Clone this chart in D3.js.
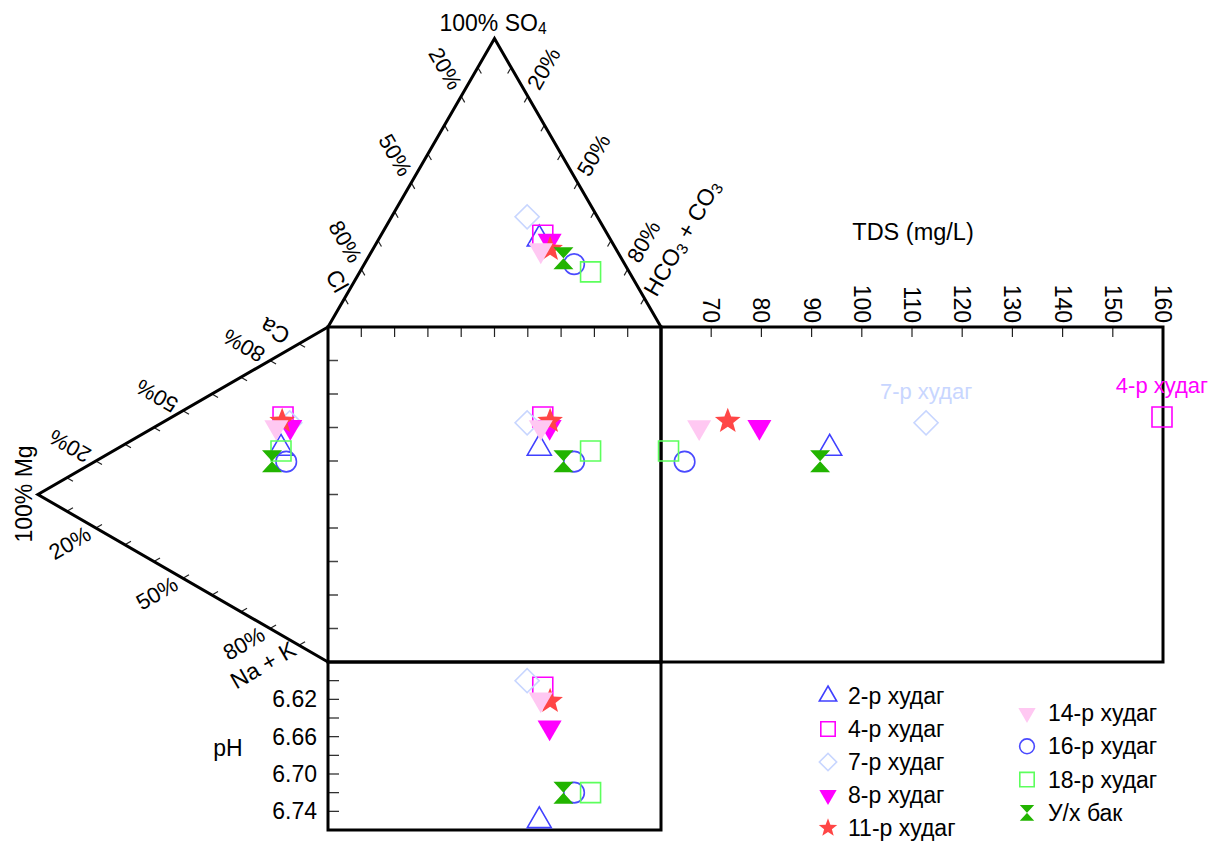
<!DOCTYPE html>
<html><head><meta charset="utf-8">
<script src="https://cdn.jsdelivr.net/npm/d3@7"></script>
<style>
body{margin:0;background:#fff}
svg{display:block}
text{font-family:"Liberation Sans",Arial,sans-serif;fill:#000}
</style>
</head><body>
<svg id="c" width="1212" height="843"></svg>
<script>
// ---------- data ----------
const samples = ["2-р худаг","4-р худаг","7-р худаг","8-р худаг","11-р худаг","14-р худаг","16-р худаг","18-р худаг","У/х бак"];
const so4  = [30.5,31.8,38.2,29.9,27.0,26.6,21.8,19.1,23.8];
const hco3 = [48.2,48.6,40.7,51.6,53.2,50.6,63.0,69.3,58.8];
const cl   = [21.3,19.6,21.1,18.5,19.8,22.8,15.2,11.6,17.4];
const ca   = [55.7,65.4,64.8,63.7,64.0,61.2,52.6,54.9,50.3];
const mg   = [16.2,15.5,13.2,13.0,15.8,17.8,14.4,16.2,19.3];
const nak  = [28.1,19.1,22.0,23.3,20.2,21.0,33.0,28.9,30.4];
const tds  = [93.6,159.8,112.8,79.6,73.3,67.6,64.7,61.5,91.7];
const ph   = [6.75,6.607,6.60,6.65,6.622,6.62,6.72,6.72,6.72];
const tdsTicks = [70,80,90,100,110,120,130,140,150,160];
const phTicks = [6.62,6.66,6.70,6.74];
const phMinor = [6.60,6.62,6.64,6.66,6.68,6.70,6.72,6.74];
const pctTicks = [10,20,30,40,50,60,70,80,90];
const pctLabels = [20,50,80];
const tdsLabelled = ["4-р худаг","7-р худаг"];

// ---------- styles ----------
const colors = ["#4040ff","#ff00ff","#c8d6ff","#ff00ff","#ff4646","#ffc8f2","#4a4aff","#5cff5c","#22b400"];
const shapes = ["triangle","square","diamond","triDown","star","triDown","circle","square","hourglass"];
const filled = [false,false,false,true,true,true,false,false,true];

const svg = d3.select("#c");
const X0 = 328, Y0 = 327, W = 333, H = 335;
const HT = W*Math.sqrt(3)/2;
const HL = H*Math.sqrt(3)/2;
const XR = X0 + W, YB = Y0 + H;

const ax = d3.scaleLinear().domain([0,100]).range([X0, XR]);
const ay = d3.scaleLinear().domain([0,100]).range([Y0, Y0-HT]);
const cy = d3.scaleLinear().domain([0,100]).range([Y0, YB]);
const cx = d3.scaleLinear().domain([0,100]).range([X0, X0-HL]);
const tx = d3.scaleLinear().domain([60,160]).range([XR, 1163]);
const py = d3.scaleLinear().domain([6.58,6.76]).range([YB, 830]);

const A = {x: X0+W/2, y: Y0-HT}, L = {x: X0, y: Y0}, R = {x: XR, y: Y0};
const M = {x: X0-HL, y: Y0+H/2}, C = {x: X0, y: Y0}, N = {x: X0, y: YB};

const pts = samples.map((s,i)=>({
  i,
  axp: ax(hco3[i] + so4[i]/2),
  ayp: ay(so4[i]),
  cxp: cx(mg[i]),
  cyp: cy(nak[i] + mg[i]/2),
  txp: tx(tds[i]),
  pyp: py(ph[i])
}));

const FS = 23;
const g = svg.append("g");
const lerp = (p,q,t)=>({x:p.x+(q.x-p.x)*t, y:p.y+(q.y-p.y)*t});

function edgeTicks(p0, p1, dir, off, rot) {
  pctTicks.forEach(v=>{
    const p = lerp(p0,p1,v/100);
    g.append("line").attr("x1",p.x).attr("y1",p.y)
      .attr("x2",p.x+dir[0]*7).attr("y2",p.y+dir[1]*7)
      .attr("stroke","#222").attr("stroke-width",1.2);
  });
  pctLabels.forEach(v=>{
    const p = lerp(p0,p1,v/100);
    g.append("text").attr("transform",`translate(${p.x+off[0]},${p.y+off[1]}) rotate(${rot})`)
      .attr("text-anchor","middle").attr("dominant-baseline","central")
      .attr("font-size",22).text(v+"%");
  });
}
const s3 = Math.sqrt(3)/2;
edgeTicks(A, L, [0.5, s3], [-0.5*32, -s3*32], 60);
edgeTicks(A, R, [-0.5, s3], [0.5*32, -s3*32], -60);
edgeTicks(M, C, [s3, 0.5], [-s3*30, -0.5*30], 210);
edgeTicks(M, N, [s3, -0.5], [-s3*30, 0.5*30], -30);

pctTicks.forEach(v=>{
  g.append("line").attr("x1",ax(v)).attr("x2",ax(v)).attr("y1",Y0).attr("y2",Y0+10)
    .attr("stroke","#222").attr("stroke-width",1.2);
  g.append("line").attr("x1",X0).attr("x2",X0+10).attr("y1",cy(v)).attr("y2",cy(v))
    .attr("stroke","#444").attr("stroke-width",1.5);
});
tdsTicks.forEach(v=>{
  g.append("line").attr("x1",tx(v)).attr("x2",tx(v)).attr("y1",Y0).attr("y2",Y0+10)
    .attr("stroke","#222").attr("stroke-width",1.2);
  g.append("text").attr("transform",`translate(${tx(v)},${Y0-4}) rotate(90)`)
    .attr("text-anchor","end").attr("dy","0.35em").attr("font-size",FS).text(v);
});
phMinor.forEach(v=>{
  g.append("line").attr("x1",X0).attr("x2",X0+11).attr("y1",py(v)).attr("y2",py(v))
    .attr("stroke","#222").attr("stroke-width",1.2);
});
phTicks.forEach(v=>{
  g.append("text").attr("x",X0-11).attr("y",py(v)).attr("dy","0.35em")
    .attr("text-anchor","end").attr("font-size",FS).text(v.toFixed(2));
});

const lw = 3;
g.append("path").attr("d",`M${L.x},${L.y}L${A.x},${A.y}L${R.x},${R.y}`)
  .attr("fill","none").attr("stroke","#000").attr("stroke-width",lw);
g.append("path").attr("d",`M${C.x},${C.y}L${M.x},${M.y}L${N.x},${N.y}`)
  .attr("fill","none").attr("stroke","#000").attr("stroke-width",lw);
g.append("rect").attr("x",X0).attr("y",Y0).attr("width",W).attr("height",H)
  .attr("fill","none").attr("stroke","#000").attr("stroke-width",lw);
g.append("rect").attr("x",XR).attr("y",Y0).attr("width",tx(160)-XR).attr("height",H)
  .attr("fill","none").attr("stroke","#000").attr("stroke-width",lw);
g.append("rect").attr("x",X0).attr("y",YB).attr("width",W).attr("height",py(6.76)-YB)
  .attr("fill","none").attr("stroke","#000").attr("stroke-width",lw);

function label(x,y,rot,parts,size){
  const t = g.append("text").attr("transform",`translate(${x},${y}) rotate(${rot})`)
    .attr("text-anchor","middle").attr("dominant-baseline","central").attr("font-size",size);
  parts.forEach(p=>{
    if (p.sub) t.append("tspan").attr("dy",5).attr("font-size",size*0.68).text(p.sub);
    else t.append("tspan").attr("dy", p.back ? -5 : 0).text(p.t);
  });
}
label(493, 23, 0, [{t:"100% SO"},{sub:"4"}], FS);
label(337, 281, 60, [{t:"Cl"}], FS);
label(682, 238, -60, [{t:"HCO"},{sub:"3"},{t:" + CO",back:true},{sub:"3"}], FS);
label(275, 331, 210, [{t:"Ca"}], FS);
label(263, 665, -30, [{t:"Na + K"}], FS);
label(24, 494, -90, [{t:"100% Mg"}], FS);
g.append("text").attr("x",913).attr("y",232).attr("text-anchor","middle")
  .attr("dominant-baseline","central").attr("font-size",23.5).text("TDS (mg/L)");
g.append("text").attr("x",228).attr("y",748).attr("text-anchor","middle")
  .attr("dominant-baseline","central").attr("font-size",FS).text("pH");

function starPath(R0){
  const r0 = R0*0.42; let d="";
  for(let k=0;k<10;k++){
    const a = -Math.PI/2 + k*Math.PI/5, rr = k%2? r0:R0;
    d += (k?"L":"M") + (rr*Math.cos(a)).toFixed(2) + "," + (rr*Math.sin(a)).toFixed(2);
  }
  return d+"Z";
}
function marker(sel, i, x, y, k){
  const sh = shapes[i];
  let d, rot = 0;
  if (sh==="triangle") d = d3.symbol(d3.symbolTriangle, 250*k*k)();
  else if (sh==="triDown") { d = d3.symbol(d3.symbolTriangle, 250*k*k)(); rot = 180; }
  else if (sh==="square") d = d3.symbol(d3.symbolSquare, 400*k*k)();
  else if (sh==="diamond") { d = d3.symbol(d3.symbolSquare, 290*k*k)(); rot = 45; }
  else if (sh==="circle") d = d3.symbol(d3.symbolCircle, 330*k*k)();
  else if (sh==="star") d = starPath(13.5*k);
  else if (sh==="hourglass") { const w=10*k, h=11*k; d = `M${-w},${-h}L${w},${-h}L${-w},${h}L${w},${h}Z`; }
  sel.append("path").attr("d",d).attr("transform",`translate(${x},${y}) rotate(${rot})`)
    .attr("fill", filled[i] ? colors[i] : "none")
    .attr("stroke", filled[i] ? "none" : colors[i])
    .attr("stroke-width", 1.6);
}
const mk = svg.append("g");
pts.forEach(p=>{
  marker(mk, p.i, p.axp, p.ayp, 1);
  marker(mk, p.i, p.cxp, p.cyp, 1);
  marker(mk, p.i, p.axp, p.cyp, 1);
  marker(mk, p.i, p.txp, p.cyp, 1);
  marker(mk, p.i, p.axp, p.pyp, 1);
});
pts.filter(p=>tdsLabelled.includes(samples[p.i])).forEach(p=>{
  mk.append("text").attr("x",p.txp).attr("y",p.cyp-24).attr("text-anchor","middle")
    .attr("font-size",22).style("fill",colors[p.i]).text(samples[p.i]);
});

const lg = svg.append("g");
const col1 = [0,1,2,3,4], col2 = [5,6,7,8];
col1.forEach((i,r)=>{
  const y = 696 + r*33;
  marker(lg, i, 828, y, 0.72);
  lg.append("text").attr("x",848).attr("y",y).attr("dy","0.35em").attr("font-size",FS).text(samples[i]);
});
col2.forEach((i,r)=>{
  const y = 713 + r*33.3;
  marker(lg, i, 1027, y, 0.72);
  lg.append("text").attr("x",1048).attr("y",y).attr("dy","0.35em").attr("font-size",FS).text(samples[i]);
});
</script>
</body></html>
